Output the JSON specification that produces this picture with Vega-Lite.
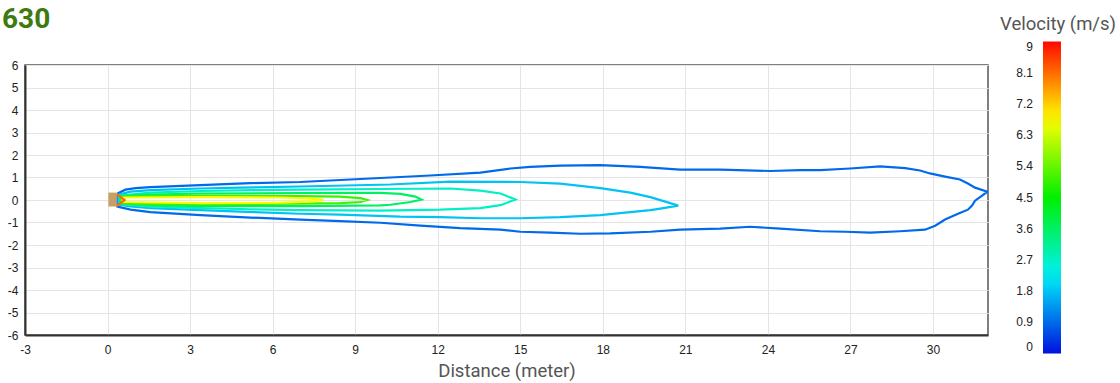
{
  "$schema": "https://vega.github.io/schema/vega-lite/v6.json",
  "width": 963,
  "height": 270,
  "autosize": {"type": "none"},
  "padding": {"left": 25, "top": 65, "right": 132, "bottom": 48},
  "background": "white",
  "title": {"text": "630", "anchor": "start", "frame": "group", "fontSize": 28, "font": "Roboto", "fontWeight": "bold", "color": "#3d7a0f", "dx": -23, "dy": 45, "offset": 4, "baseline": "alphabetic"},
  "config": {
    "view": {"stroke": "#555", "strokeWidth": 1.5},
    "axis": {"labelFont": "Liberation Sans", "labelFontSize": 12, "labelColor": "#222", "ticks": false, "domainColor": "#333", "domainWidth": 2, "gridColor": "#e4e4e4", "gridWidth": 1, "titleFont": "Roboto", "titleFontSize": 18.5, "titleFontWeight": "normal", "titleColor": "#555", "labelFlush": false, "labelOverlap": false}
  },
  "datasets": {
    "contours": [
      {"c": "a", "v": 0.9, "i": 0, "x": 0.36, "y": 0.29},
      {"c": "a", "v": 0.9, "i": 1, "x": 0.65, "y": 0.46},
      {"c": "a", "v": 0.9, "i": 2, "x": 1.02, "y": 0.53},
      {"c": "a", "v": 0.9, "i": 3, "x": 1.56, "y": 0.57},
      {"c": "a", "v": 0.9, "i": 4, "x": 3.38, "y": 0.66},
      {"c": "a", "v": 0.9, "i": 5, "x": 5.19, "y": 0.75},
      {"c": "a", "v": 0.9, "i": 6, "x": 7.01, "y": 0.80},
      {"c": "a", "v": 0.9, "i": 7, "x": 8.83, "y": 0.91},
      {"c": "a", "v": 0.9, "i": 8, "x": 10.28, "y": 1.00},
      {"c": "a", "v": 0.9, "i": 9, "x": 11.73, "y": 1.09},
      {"c": "a", "v": 0.9, "i": 10, "x": 13.55, "y": 1.22},
      {"c": "a", "v": 0.9, "i": 11, "x": 14.64, "y": 1.40},
      {"c": "a", "v": 0.9, "i": 12, "x": 15.36, "y": 1.47},
      {"c": "a", "v": 0.9, "i": 13, "x": 16.45, "y": 1.53},
      {"c": "a", "v": 0.9, "i": 14, "x": 17.91, "y": 1.55},
      {"c": "a", "v": 0.9, "i": 15, "x": 19.36, "y": 1.47},
      {"c": "a", "v": 0.9, "i": 16, "x": 20.81, "y": 1.35},
      {"c": "a", "v": 0.9, "i": 17, "x": 22.27, "y": 1.35},
      {"c": "a", "v": 0.9, "i": 18, "x": 24.08, "y": 1.29},
      {"c": "a", "v": 0.9, "i": 19, "x": 25.17, "y": 1.33},
      {"c": "a", "v": 0.9, "i": 20, "x": 25.90, "y": 1.33},
      {"c": "a", "v": 0.9, "i": 21, "x": 26.99, "y": 1.40},
      {"c": "a", "v": 0.9, "i": 22, "x": 28.08, "y": 1.49},
      {"c": "a", "v": 0.9, "i": 23, "x": 28.99, "y": 1.42},
      {"c": "a", "v": 0.9, "i": 24, "x": 29.53, "y": 1.31},
      {"c": "a", "v": 0.9, "i": 25, "x": 29.89, "y": 1.18},
      {"c": "a", "v": 0.9, "i": 26, "x": 30.44, "y": 1.04},
      {"c": "a", "v": 0.9, "i": 27, "x": 30.98, "y": 0.91},
      {"c": "a", "v": 0.9, "i": 28, "x": 31.27, "y": 0.73},
      {"c": "a", "v": 0.9, "i": 29, "x": 31.53, "y": 0.55},
      {"c": "a", "v": 0.9, "i": 30, "x": 31.98, "y": 0.37},
      {"c": "a", "v": 0.9, "i": 31, "x": 31.53, "y": -0.03},
      {"c": "a", "v": 0.9, "i": 32, "x": 31.42, "y": -0.25},
      {"c": "a", "v": 0.9, "i": 33, "x": 31.27, "y": -0.43},
      {"c": "a", "v": 0.9, "i": 34, "x": 30.91, "y": -0.61},
      {"c": "a", "v": 0.9, "i": 35, "x": 30.44, "y": -0.87},
      {"c": "a", "v": 0.9, "i": 36, "x": 30.08, "y": -1.14},
      {"c": "a", "v": 0.9, "i": 37, "x": 29.71, "y": -1.32},
      {"c": "a", "v": 0.9, "i": 38, "x": 28.81, "y": -1.39},
      {"c": "a", "v": 0.9, "i": 39, "x": 27.72, "y": -1.45},
      {"c": "a", "v": 0.9, "i": 40, "x": 26.81, "y": -1.41},
      {"c": "a", "v": 0.9, "i": 41, "x": 25.90, "y": -1.39},
      {"c": "a", "v": 0.9, "i": 42, "x": 24.45, "y": -1.27},
      {"c": "a", "v": 0.9, "i": 43, "x": 23.36, "y": -1.19},
      {"c": "a", "v": 0.9, "i": 44, "x": 22.27, "y": -1.27},
      {"c": "a", "v": 0.9, "i": 45, "x": 20.81, "y": -1.32},
      {"c": "a", "v": 0.9, "i": 46, "x": 19.73, "y": -1.41},
      {"c": "a", "v": 0.9, "i": 47, "x": 18.27, "y": -1.48},
      {"c": "a", "v": 0.9, "i": 48, "x": 17.18, "y": -1.50},
      {"c": "a", "v": 0.9, "i": 49, "x": 16.09, "y": -1.45},
      {"c": "a", "v": 0.9, "i": 50, "x": 15.00, "y": -1.41},
      {"c": "a", "v": 0.9, "i": 51, "x": 14.28, "y": -1.32},
      {"c": "a", "v": 0.9, "i": 52, "x": 12.82, "y": -1.25},
      {"c": "a", "v": 0.9, "i": 53, "x": 11.37, "y": -1.14},
      {"c": "a", "v": 0.9, "i": 54, "x": 9.92, "y": -1.01},
      {"c": "a", "v": 0.9, "i": 55, "x": 8.46, "y": -0.94},
      {"c": "a", "v": 0.9, "i": 56, "x": 7.01, "y": -0.87},
      {"c": "a", "v": 0.9, "i": 57, "x": 5.19, "y": -0.78},
      {"c": "a", "v": 0.9, "i": 58, "x": 3.38, "y": -0.67},
      {"c": "a", "v": 0.9, "i": 59, "x": 1.56, "y": -0.54},
      {"c": "a", "v": 0.9, "i": 60, "x": 0.84, "y": -0.43},
      {"c": "a", "v": 0.9, "i": 61, "x": 0.36, "y": -0.29},
      {"c": "a", "v": 0.9, "i": 62, "x": 0.36, "y": 0.29},

      {"c": "b", "v": 1.8, "i": 0, "x": 0.40, "y": 0.24},
      {"c": "b", "v": 1.8, "i": 1, "x": 0.84, "y": 0.37},
      {"c": "b", "v": 1.8, "i": 2, "x": 1.56, "y": 0.44},
      {"c": "b", "v": 1.8, "i": 3, "x": 3.38, "y": 0.51},
      {"c": "b", "v": 1.8, "i": 4, "x": 4.83, "y": 0.55},
      {"c": "b", "v": 1.8, "i": 5, "x": 7.01, "y": 0.60},
      {"c": "b", "v": 1.8, "i": 6, "x": 10.28, "y": 0.69},
      {"c": "b", "v": 1.8, "i": 7, "x": 12.46, "y": 0.82},
      {"c": "b", "v": 1.8, "i": 8, "x": 15.00, "y": 0.80},
      {"c": "b", "v": 1.8, "i": 9, "x": 16.45, "y": 0.73},
      {"c": "b", "v": 1.8, "i": 10, "x": 17.91, "y": 0.53},
      {"c": "b", "v": 1.8, "i": 11, "x": 19.00, "y": 0.33},
      {"c": "b", "v": 1.8, "i": 12, "x": 19.73, "y": 0.13},
      {"c": "b", "v": 1.8, "i": 13, "x": 20.27, "y": -0.07},
      {"c": "b", "v": 1.8, "i": 14, "x": 20.74, "y": -0.25},
      {"c": "b", "v": 1.8, "i": 15, "x": 20.09, "y": -0.38},
      {"c": "b", "v": 1.8, "i": 16, "x": 19.73, "y": -0.45},
      {"c": "b", "v": 1.8, "i": 17, "x": 18.63, "y": -0.58},
      {"c": "b", "v": 1.8, "i": 18, "x": 17.91, "y": -0.67},
      {"c": "b", "v": 1.8, "i": 19, "x": 16.45, "y": -0.76},
      {"c": "b", "v": 1.8, "i": 20, "x": 15.00, "y": -0.81},
      {"c": "b", "v": 1.8, "i": 21, "x": 13.55, "y": -0.81},
      {"c": "b", "v": 1.8, "i": 22, "x": 12.10, "y": -0.76},
      {"c": "b", "v": 1.8, "i": 23, "x": 10.64, "y": -0.74},
      {"c": "b", "v": 1.8, "i": 24, "x": 8.46, "y": -0.65},
      {"c": "b", "v": 1.8, "i": 25, "x": 7.01, "y": -0.61},
      {"c": "b", "v": 1.8, "i": 26, "x": 4.83, "y": -0.52},
      {"c": "b", "v": 1.8, "i": 27, "x": 3.38, "y": -0.45},
      {"c": "b", "v": 1.8, "i": 28, "x": 1.56, "y": -0.36},
      {"c": "b", "v": 1.8, "i": 29, "x": 0.84, "y": -0.29},
      {"c": "b", "v": 1.8, "i": 30, "x": 0.40, "y": -0.20},
      {"c": "b", "v": 1.8, "i": 31, "x": 0.40, "y": 0.24},

      {"c": "c", "v": 2.7, "i": 0, "x": 0.44, "y": 0.20},
      {"c": "c", "v": 2.7, "i": 1, "x": 1.56, "y": 0.33},
      {"c": "c", "v": 2.7, "i": 2, "x": 3.38, "y": 0.40},
      {"c": "c", "v": 2.7, "i": 3, "x": 5.19, "y": 0.44},
      {"c": "c", "v": 2.7, "i": 4, "x": 7.01, "y": 0.46},
      {"c": "c", "v": 2.7, "i": 5, "x": 9.92, "y": 0.49},
      {"c": "c", "v": 2.7, "i": 6, "x": 12.46, "y": 0.51},
      {"c": "c", "v": 2.7, "i": 7, "x": 13.55, "y": 0.42},
      {"c": "c", "v": 2.7, "i": 8, "x": 14.28, "y": 0.29},
      {"c": "c", "v": 2.7, "i": 9, "x": 14.82, "y": 0.02},
      {"c": "c", "v": 2.7, "i": 10, "x": 14.28, "y": -0.23},
      {"c": "c", "v": 2.7, "i": 11, "x": 13.55, "y": -0.36},
      {"c": "c", "v": 2.7, "i": 12, "x": 12.10, "y": -0.43},
      {"c": "c", "v": 2.7, "i": 13, "x": 9.92, "y": -0.47},
      {"c": "c", "v": 2.7, "i": 14, "x": 7.01, "y": -0.45},
      {"c": "c", "v": 2.7, "i": 15, "x": 5.19, "y": -0.41},
      {"c": "c", "v": 2.7, "i": 16, "x": 3.38, "y": -0.36},
      {"c": "c", "v": 2.7, "i": 17, "x": 1.56, "y": -0.29},
      {"c": "c", "v": 2.7, "i": 18, "x": 0.44, "y": -0.18},
      {"c": "c", "v": 2.7, "i": 19, "x": 0.44, "y": 0.20},

      {"c": "d", "v": 3.6, "i": 0, "x": 0.47, "y": 0.17},
      {"c": "d", "v": 3.6, "i": 1, "x": 1.56, "y": 0.24},
      {"c": "d", "v": 3.6, "i": 2, "x": 3.38, "y": 0.29},
      {"c": "d", "v": 3.6, "i": 3, "x": 7.01, "y": 0.31},
      {"c": "d", "v": 3.6, "i": 4, "x": 9.92, "y": 0.32},
      {"c": "d", "v": 3.6, "i": 5, "x": 10.64, "y": 0.27},
      {"c": "d", "v": 3.6, "i": 6, "x": 11.19, "y": 0.15},
      {"c": "d", "v": 3.6, "i": 7, "x": 11.41, "y": 0.02},
      {"c": "d", "v": 3.6, "i": 8, "x": 11.01, "y": -0.09},
      {"c": "d", "v": 3.6, "i": 9, "x": 10.28, "y": -0.21},
      {"c": "d", "v": 3.6, "i": 10, "x": 9.92, "y": -0.24},
      {"c": "d", "v": 3.6, "i": 11, "x": 7.01, "y": -0.27},
      {"c": "d", "v": 3.6, "i": 12, "x": 3.38, "y": -0.27},
      {"c": "d", "v": 3.6, "i": 13, "x": 1.56, "y": -0.23},
      {"c": "d", "v": 3.6, "i": 14, "x": 0.47, "y": -0.14},
      {"c": "d", "v": 3.6, "i": 15, "x": 0.47, "y": 0.17},

      {"c": "e", "v": 5.0, "i": 0, "x": 0.51, "y": 0.15},
      {"c": "e", "v": 5.0, "i": 1, "x": 1.56, "y": 0.17},
      {"c": "e", "v": 5.0, "i": 2, "x": 3.38, "y": 0.20},
      {"c": "e", "v": 5.0, "i": 3, "x": 7.01, "y": 0.17},
      {"c": "e", "v": 5.0, "i": 4, "x": 8.46, "y": 0.15},
      {"c": "e", "v": 5.0, "i": 5, "x": 9.19, "y": 0.08},
      {"c": "e", "v": 5.0, "i": 6, "x": 9.44, "y": 0.00},
      {"c": "e", "v": 5.0, "i": 7, "x": 9.19, "y": -0.09},
      {"c": "e", "v": 5.0, "i": 8, "x": 8.46, "y": -0.14},
      {"c": "e", "v": 5.0, "i": 9, "x": 7.01, "y": -0.16},
      {"c": "e", "v": 5.0, "i": 10, "x": 3.38, "y": -0.18},
      {"c": "e", "v": 5.0, "i": 11, "x": 1.56, "y": -0.18},
      {"c": "e", "v": 5.0, "i": 12, "x": 0.51, "y": -0.14},
      {"c": "e", "v": 5.0, "i": 13, "x": 0.51, "y": 0.15},

      {"c": "f", "v": 6.8, "i": 0, "x": 0.54, "y": 0.11},
      {"c": "f", "v": 6.8, "i": 1, "x": 3.38, "y": 0.13},
      {"c": "f", "v": 6.8, "i": 2, "x": 6.28, "y": 0.11},
      {"c": "f", "v": 6.8, "i": 3, "x": 7.37, "y": 0.06},
      {"c": "f", "v": 6.8, "i": 4, "x": 7.85, "y": 0.00},
      {"c": "f", "v": 6.8, "i": 5, "x": 7.37, "y": -0.07},
      {"c": "f", "v": 6.8, "i": 6, "x": 6.28, "y": -0.12},
      {"c": "f", "v": 6.8, "i": 7, "x": 3.38, "y": -0.14},
      {"c": "f", "v": 6.8, "i": 8, "x": 0.54, "y": -0.09},
      {"c": "f", "v": 6.8, "i": 9, "x": 0.54, "y": 0.11},

      {"c": "g", "v": 8.1, "i": 0, "x": 0.33, "y": 0.26},
      {"c": "g", "v": 8.1, "i": 1, "x": 0.62, "y": 0.00},
      {"c": "g", "v": 8.1, "i": 2, "x": 0.33, "y": -0.27}
    ],
    "nozzle": [
      {"x0": 0.03, "x1": 0.33, "y0": -0.29, "y1": 0.33}
    ]
  },
  "layer": [
    {
      "data": {"name": "contours"},
      "mark": {"type": "line", "strokeWidth": 2.2, "clip": true},
      "encoding": {
        "x": {"field": "x", "type": "quantitative", "scale": {"domain": [-3, 32], "nice": false, "zero": false},
          "axis": {"values": [-3, 0, 3, 6, 9, 12, 15, 18, 21, 24, 27, 30], "title": "Distance (meter)", "grid": true, "labelPadding": 9, "titlePadding": 6, "labelExpr": "datum.value + ''"}},
        "y": {"field": "y", "type": "quantitative", "scale": {"domain": [-6, 6], "nice": false, "zero": false},
          "axis": {"values": [-6, -5, -4, -3, -2, -1, 0, 1, 2, 3, 4, 5, 6], "title": null, "grid": true, "labelPadding": 7, "labelExpr": "datum.value + ''"}},
        "detail": {"field": "c", "type": "nominal"},
        "order": {"field": "i", "type": "quantitative"},
        "color": {"field": "v", "type": "quantitative",
          "scale": {"domain": [0, 9], "range": ["#0010e0", "#00f0f8", "#00f000", "#ffff00", "#ff0800"], "interpolate": "rgb"},
          "legend": {"orient": "none", "legendX": 975, "legendY": -50, "direction": "vertical", "gradientLength": 312, "gradientThickness": 18, "gradientStrokeWidth": 0,
            "labelAlign": "right", "labelOffset": -28, "labelBaseline": "middle", "labelOverlap": false,
            "values": [0, 0.9, 1.8, 2.7, 3.6, 4.5, 5.4, 6.3, 7.2, 8.1, 9], "format": ".1~f",
            "title": "Velocity (m/s)", "titleFont": "Roboto", "titleFontSize": 18.5, "titleFontWeight": "normal", "titleColor": "#555", "titlePadding": 8,
            "labelFont": "Liberation Sans", "labelFontSize": 12, "labelColor": "#222",
            "encode": {
              "labels": {"update": {"align": {"value": "right"}}},
              "title": {"update": {"dx": {"value": -43}}}
            }}}
      }
    },
    {
      "data": {"name": "nozzle"},
      "mark": {"type": "rect", "color": "#c8a064"},
      "encoding": {
        "x": {"field": "x0", "type": "quantitative", "scale": {"domain": [-3, 32], "nice": false, "zero": false},
          "axis": {"values": [-3, 0, 3, 6, 9, 12, 15, 18, 21, 24, 27, 30], "title": "Distance (meter)", "grid": true, "labelPadding": 9, "titlePadding": 6, "labelExpr": "datum.value + ''"}},
        "x2": {"field": "x1"},
        "y": {"field": "y0", "type": "quantitative", "scale": {"domain": [-6, 6], "nice": false, "zero": false},
          "axis": {"values": [-6, -5, -4, -3, -2, -1, 0, 1, 2, 3, 4, 5, 6], "title": null, "grid": true, "labelPadding": 7, "labelExpr": "datum.value + ''"}},
        "y2": {"field": "y1"}
      }
    }
  ]
}
